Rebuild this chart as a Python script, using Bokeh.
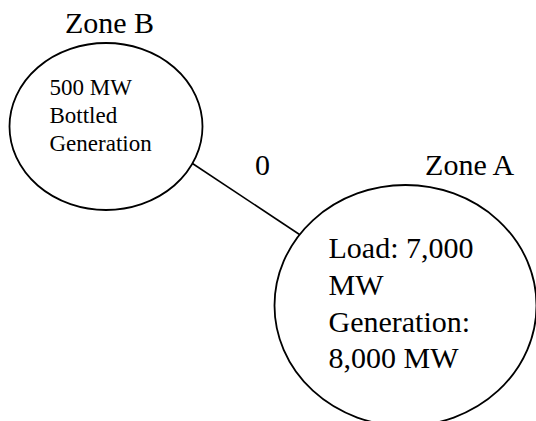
from bokeh.plotting import figure
from bokeh.models import Range1d
from bokeh.core.properties import value
from bokeh.embed import file_html
from bokeh.resources import INLINE

# ---- diagram content ----
zone_names = ["Zone B", "Zone A"]
zone_b_lines = ["500 MW", "Bottled", "Generation"]
zone_a_lines = ["Load: 7,000", "MW", "Generation:", "8,000 MW"]
flow_label = ["0"]

# ---- layout (reference pixel coordinates) ----
ell_x = [105.5, 405]
ell_y = [126, 305]
ell_w = [193, 262]
ell_h = [167, 241]
title_x = [109, 470]
title_y = [22, 164]
line_x = [192, 299]
line_y = [163, 234]

FONT = value("Liberation Serif")

p = figure(width=536, height=421, output_backend="svg", toolbar_location=None,
           x_range=Range1d(0, 536), y_range=Range1d(421, 0), min_border=0)
p.axis.visible = False
p.grid.visible = False
p.outline_line_color = None
p.background_fill_color = "white"
p.border_fill_color = "white"

# connecting line
p.line(line_x, line_y, line_color="black", line_width=1.6)

# zone ellipses
p.ellipse(x=ell_x, y=ell_y, width=ell_w, height=ell_h,
          width_units="screen", height_units="screen",
          fill_color=None, line_color="black", line_width=1.8)

# zone titles
p.text(x=title_x, y=title_y, text=zone_names, text_font=FONT,
       text_font_size="30px", text_align="center", text_baseline="alphabetic",
       text_color="black")

# flow label
p.text(x=[262], y=[165], text=flow_label, text_font=FONT,
       text_font_size="30px", text_align="center", text_baseline="alphabetic",
       text_color="black")

# zone B inner text
b_base = [87, 115, 143]
p.text(x=[49] * len(zone_b_lines), y=b_base, text=zone_b_lines, text_font=FONT,
       text_font_size="23px", text_align="left", text_baseline="alphabetic",
       text_color="black")

# zone A inner text
a_base = [247, 284, 321, 357]
p.text(x=[328] * len(zone_a_lines), y=a_base, text=zone_a_lines, text_font=FONT,
       text_font_size="30px", text_align="left", text_baseline="alphabetic",
       text_color="black")

open("out.html", "w").write(file_html(p, INLINE))
